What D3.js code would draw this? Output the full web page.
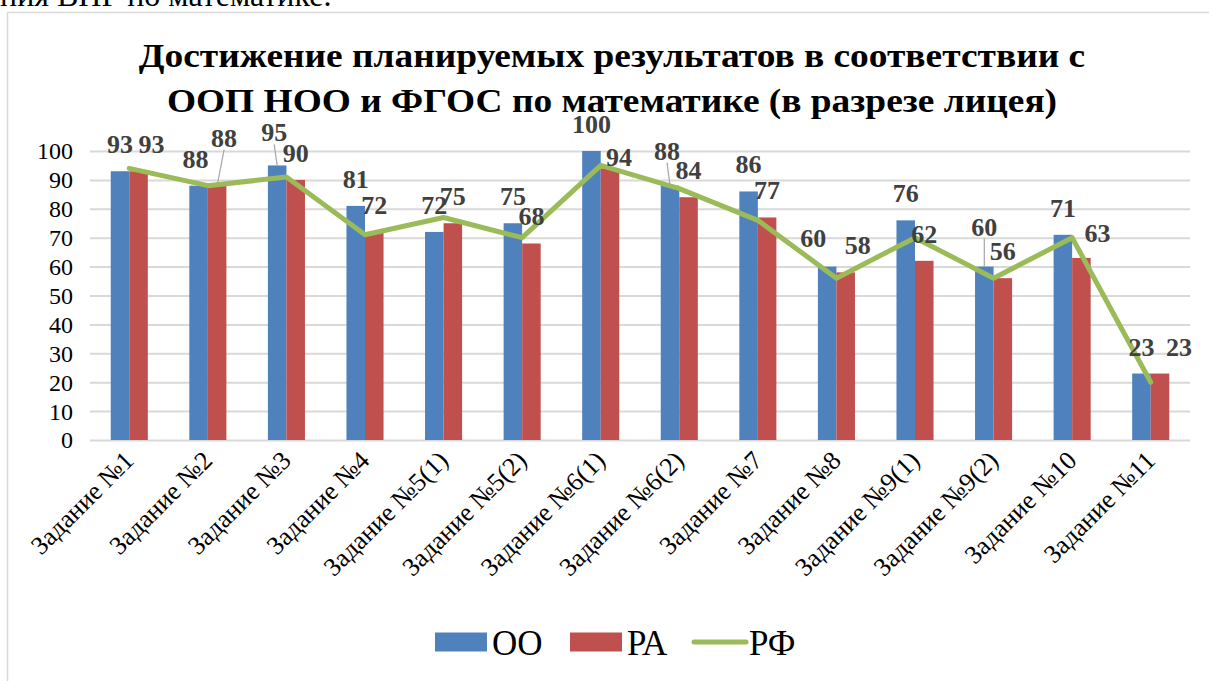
<!DOCTYPE html>
<html>
<head>
<meta charset="utf-8">
<script src="https://cdn.jsdelivr.net/npm/d3@7"></script>
<style>
  html, body { margin: 0; padding: 0; background: #fff; }
  #chart { width: 1209px; height: 681px; overflow: hidden; }
</style>
</head>
<body>
<div id="chart"></div>
<script>
// Достижение планируемых результатов — grouped bars + line

const categories = [
  "Задание №1", "Задание №2", "Задание №3", "Задание №4", "Задание №5(1)",
  "Задание №5(2)", "Задание №6(1)", "Задание №6(2)", "Задание №7", "Задание №8",
  "Задание №9(1)", "Задание №9(2)", "Задание №10", "Задание №11"
];
const ooValues = [93, 88, 95, 81, 72, 75, 100, 88, 86, 60, 76, 60, 71, 23];
const raValues = [93, 88, 90, 72, 75, 68, 94, 84, 77, 58, 62, 56, 63, 23];
const rfValues = [94, 88, 91, 71, 77, 70, 95, 87, 76, 56, 70, 56, 70, 20];
const yTicks = [0, 10, 20, 30, 40, 50, 60, 70, 80, 90, 100];
const seriesNames = ["ОО", "РА", "РФ"];

// labels that were dragged by hand in the original: [dx, dy]
const ooLabelShift = [[0,0],[-3,0],[-3,-6],[0,0],[0,0],[0,0],[0,0],[-3,-8],[0,0],[-14,-2],[0,0],[0,-13],[0,0],[0,0]];
const raLabelShift = [[13,0],[7,-21],[0,0],[0,0],[0,0],[0,0],[9,16],[0,0],[0,0],[12,0],[0,0],[0,0],[16,2],[19,0]];

const colors = { OO: "#4f81bd", RA: "#c0504d", RF: "#9bbb59" };
const serif = "'Liberation Serif', 'Times New Roman', 'DejaVu Serif', serif";

const width = 1209, height = 681;
const svg = d3.select("#chart").append("svg")
  .attr("width", width)
  .attr("height", height)
  .style("font-family", serif);

// clipped text line of the document above the chart
svg.append("text")
  .attr("x", 0).attr("y", 6)
  .style("font-family", serif)
  .style("font-size", "32px")
  .style("fill", "#000")
  .text("ния ВПР по математике.");

// chart frame
svg.append("rect")
  .attr("x", 7.5).attr("y", 12.5)
  .attr("width", 1300).attr("height", 800)
  .attr("fill", "#fff")
  .attr("stroke", "#d9d9d9")
  .attr("stroke-width", 1.5);

// title (slightly widened, as in the source picture)
const title = svg.append("text")
  .attr("transform", "translate(612,0) scale(1.1,1)")
  .attr("text-anchor", "middle")
  .style("font-family", serif)
  .style("font-size", "34px")
  .style("font-weight", "bold")
  .style("fill", "#000");
title.append("tspan").attr("x", 0).attr("y", 67)
  .text("Достижение планируемых результатов в соответствии с");
title.append("tspan").attr("x", 0).attr("y", 112)
  .text("ООП НОО и ФГОС по математике (в разрезе лицея)");

const plot = { left: 90, right: 1190, top: 151, bottom: 440 };

const x = d3.scaleBand()
  .domain(categories)
  .range([plot.left, plot.right])
  .padding(0);

const x1 = d3.scaleBand()
  .domain(["OO", "RA"])
  .range([0, x.bandwidth()])
  .paddingInner(0)
  .paddingOuter(1.12);

const y = d3.scaleLinear()
  .domain([0, 100])
  .range([plot.bottom, plot.top]);

// grid lines
svg.append("g")
  .attr("transform", `translate(${plot.left},0)`)
  .call(d3.axisLeft(y).tickValues(yTicks).tickSize(-(plot.right - plot.left)).tickFormat(""))
  .call(g => g.select(".domain").remove())
  .call(g => g.selectAll("line").attr("stroke", "#d9d9d9").attr("stroke-width", 2));

// y axis labels
svg.append("g")
  .attr("transform", `translate(${plot.left},0)`)
  .call(d3.axisLeft(y).tickValues(yTicks).tickSize(0).tickPadding(17))
  .attr("font-family", null)
  .attr("font-size", null)
  .call(g => g.select(".domain").remove())
  .call(g => g.selectAll("text")
    .style("font-family", serif)
    .style("font-size", "24px")
    .attr("fill", "#000")
    .attr("dy", "0.33em"));

// x axis labels (rotated)
svg.append("g")
  .selectAll("text")
  .data(categories)
  .join("text")
  .attr("transform", d => `translate(${x(d) + x.bandwidth() / 2 + 6},${plot.bottom + 22}) rotate(-45)`)
  .attr("text-anchor", "end")
  .style("font-family", serif)
  .style("font-size", "26px")
  .style("fill", "#000")
  .text(d => d);

// bars
const rows = categories.map((c, i) => ({ cat: c, i, OO: ooValues[i], RA: raValues[i], RF: rfValues[i] }));

const groups = svg.append("g")
  .selectAll("g")
  .data(rows)
  .join("g")
  .attr("transform", d => `translate(${x(d.cat)},0)`);

groups.selectAll("rect")
  .data(d => ["OO", "RA"].map(k => ({ key: k, value: d[k] })))
  .join("rect")
  .attr("x", d => x1(d.key))
  .attr("y", d => y(d.value))
  .attr("width", x1.bandwidth())
  .attr("height", d => y(0) - y(d.value))
  .attr("fill", d => colors[d.key]);

// line
const line = d3.line()
  .x(d => x(d.cat) + x.bandwidth() / 2)
  .y(d => y(d.RF));

svg.append("path")
  .datum(rows)
  .attr("fill", "none")
  .attr("stroke", colors.RF)
  .attr("stroke-width", 5)
  .attr("stroke-linejoin", "round")
  .attr("stroke-linecap", "round")
  .attr("d", line);

// data labels
const labels = [];
rows.forEach(d => {
  labels.push({ cat: d.cat, key: "OO", value: d.OO, shift: ooLabelShift[d.i] });
  labels.push({ cat: d.cat, key: "RA", value: d.RA, shift: raLabelShift[d.i] });
});

const barCenter = d => x(d.cat) + x1(d.key) + x1.bandwidth() / 2;
const labelGap = 18;

// leader lines for the labels pulled away from their bars
svg.append("g")
  .selectAll("line")
  .data(labels.filter(d => d.shift[1] <= -5))
  .join("line")
  .attr("x1", d => barCenter(d) + d.shift[0])
  .attr("y1", d => y(d.value) - labelGap + d.shift[1] + 3)
  .attr("x2", d => barCenter(d))
  .attr("y2", d => y(d.value))
  .attr("stroke", "#a6a6a6")
  .attr("stroke-width", 1.2);

svg.append("g")
  .selectAll("text")
  .data(labels)
  .join("text")
  .attr("x", d => barCenter(d) + d.shift[0])
  .attr("y", d => y(d.value) - labelGap + d.shift[1])
  .attr("text-anchor", "middle")
  .style("font-family", serif)
  .style("font-size", "26px")
  .style("font-weight", "bold")
  .style("fill", "#404040")
  .text(d => d.value);

// legend
const legend = svg.append("g").attr("transform", "translate(435,642)");
const legendItems = [
  { name: seriesNames[0], color: colors.OO, type: "bar", x: 0 },
  { name: seriesNames[1], color: colors.RA, type: "bar", x: 135 },
  { name: seriesNames[2], color: colors.RF, type: "line", x: 257 }
];
legendItems.forEach(it => {
  const g = legend.append("g").attr("transform", `translate(${it.x},0)`);
  if (it.type === "bar") {
    g.append("rect").attr("x", 0).attr("y", -9.5).attr("width", 52).attr("height", 19).attr("fill", it.color);
  } else {
    g.append("line").attr("x1", 2).attr("x2", 54).attr("y1", 0).attr("y2", 0)
      .attr("stroke", it.color).attr("stroke-width", 5).attr("stroke-linecap", "round");
  }
  g.append("text")
    .attr("x", 57).attr("y", 13)
    .style("font-family", serif)
    .style("font-size", "35px")
    .style("fill", "#000")
    .text(it.name);
});
</script>
</body>
</html>
